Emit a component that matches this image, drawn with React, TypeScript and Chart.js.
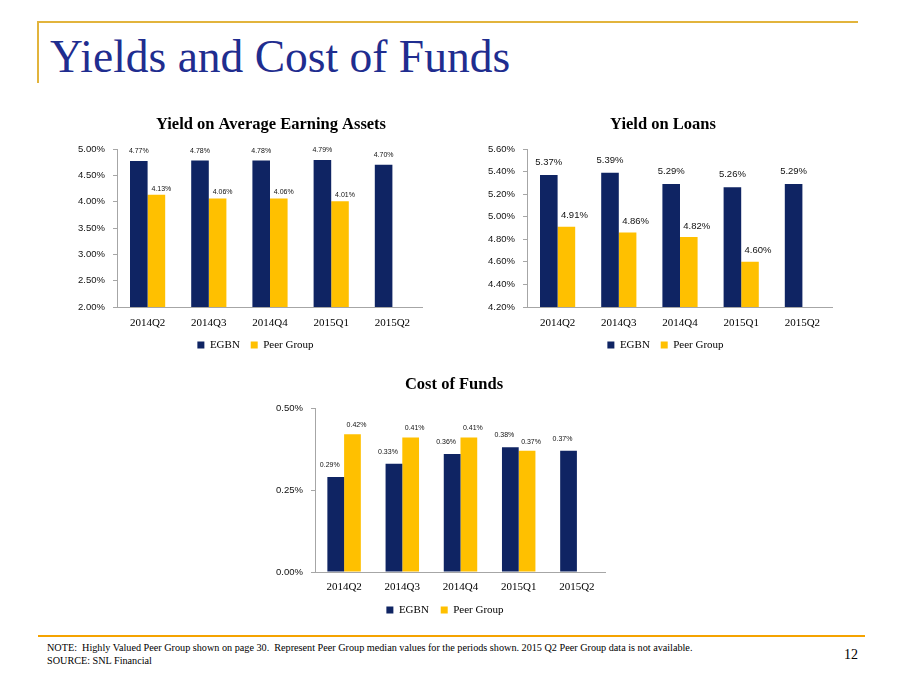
import { useEffect, useRef } from 'react';
import { Chart, registerables } from 'chart.js';

Chart.register(...registerables);
Chart.defaults.font.family = '"Liberation Serif", "Times New Roman", serif';
Chart.defaults.color = '#000';

// ---------- data ----------
const categories = ['2014Q2', '2014Q3', '2014Q4', '2015Q1', '2015Q2'];
const seriesNames = ['EGBN', 'Peer Group'];

const earningAssetsEGBN = [4.77, 4.78, 4.78, 4.79, 4.70];
const earningAssetsPeer = [4.13, 4.06, 4.06, 4.01, null];

const loansEGBN = [5.37, 5.39, 5.29, 5.26, 5.29];
const loansPeer = [4.91, 4.86, 4.82, 4.60, null];

const costEGBN = [0.29, 0.33, 0.36, 0.38, 0.37];
const costPeer = [0.42, 0.41, 0.41, 0.37, null];

const earningAssetsAxis = [2.0, 5.0, 0.5]; // min, max, step
const loansAxis = [4.2, 5.6, 0.2];
const costAxis = [0.0, 0.5, 0.25];

const slideTitle = 'Yields and Cost of Funds';
const chartTitles = ['Yield on Average Earning Assets', 'Yield on Loans', 'Cost of Funds'];
const noteText =
  'NOTE:  Highly Valued Peer Group shown on page 30.  Represent Peer Group median values for the periods shown. 2015 Q2 Peer Group data is not available.';
const sourceText = 'SOURCE: SNL Financial';
const pageNumber = '12';

// ---------- styles ----------
const NAVY = '#0f2463';
const GOLD = '#ffc000';
const AXIS = '#a6a6a6';

const barLabelPlugin = {
  id: 'barLabels',
  afterDatasetsDraw(chart: any, _args: any, opts: any) {
    const { ctx } = chart;
    ctx.save();
    ctx.font = `${opts.size}px "Liberation Sans", Arial, sans-serif`;
    ctx.fillStyle = opts.color || '#000';
    ctx.textAlign = 'center';
    ctx.textBaseline = 'middle';
    chart.data.datasets.forEach((ds: any, di: number) => {
      const meta = chart.getDatasetMeta(di);
      const off = opts.offsets[di];
      meta.data.forEach((el: any, i: number) => {
        const v = ds.data[i];
        if (v === null || v === undefined) return;
        ctx.fillText(Number(v).toFixed(2) + '%', el.x + off.dx, el.y + off.dy);
      });
    });
    ctx.restore();
  },
};

const boxShiftPlugin = {
  id: 'boxShift',
  afterLayout(chart: any, _args: any, opts: any) {
    const t = chart.titleBlock;
    if (t && opts.title) {
      t.left += opts.title;
      t.right += opts.title;
    }
    const l = chart.legend;
    if (l && opts.legend) {
      l.left += opts.legend;
      l.right += opts.legend;
    }
  },
};

type Spec = {
  title: string;
  egbn: (number | null)[];
  peer: (number | null)[];
  axis: number[];
  box: { left: number; top: number; width: number; height: number };
  yWidth: number;
  xHeight: number;
  titlePad: { top: number; bottom: number };
  xPad: number;
  legendPad: number;
  bottomPad: number;
  titleShift: number;
  legendShift: number;
  labelSize: number;
  labelOffsets: { dx: number; dy: number }[];
};

const specs: Spec[] = [
  {
    title: chartTitles[0],
    egbn: earningAssetsEGBN,
    peer: earningAssetsPeer,
    axis: earningAssetsAxis,
    box: { left: 60, top: 110, width: 363, height: 251 },
    yWidth: 57,
    xHeight: 21.6,
    titlePad: { top: 5.1, bottom: 14.1 },
    xPad: 9.4,
    legendPad: 10.9,
    bottomPad: 0.5,
    titleShift: 29.5,
    legendShift: 14,
    labelSize: 7,
    labelOffsets: [
      { dx: 0, dy: -10 },
      { dx: 5, dy: -6 },
    ],
  },
  {
    title: chartTitles[1],
    egbn: loansEGBN,
    peer: loansPeer,
    axis: loansAxis,
    box: { left: 470, top: 110, width: 363, height: 251 },
    yWidth: 57,
    xHeight: 21.6,
    titlePad: { top: 5.1, bottom: 14.1 },
    xPad: 9.4,
    legendPad: 10.9,
    bottomPad: 0.5,
    titleShift: 11.5,
    legendShift: 14,
    labelSize: 9.5,
    labelOffsets: [
      { dx: 0, dy: -12.5 },
      { dx: 8, dy: -11 },
    ],
  },
  {
    title: chartTitles[2],
    egbn: costEGBN,
    peer: costPeer,
    axis: costAxis,
    box: { left: 260, top: 370, width: 346, height: 256 },
    yWidth: 55,
    xHeight: 20.6,
    titlePad: { top: 4.6, bottom: 13.6 },
    xPad: 8.4,
    legendPad: 11.9,
    bottomPad: 0.5,
    titleShift: 21,
    legendShift: 12,
    labelSize: 7,
    labelOffsets: [
      { dx: -6, dy: -12 },
      { dx: 4, dy: -9 },
    ],
  },
];

function BarChart({ spec }: { spec: Spec }) {
  const ref = useRef<HTMLCanvasElement>(null);
  useEffect(() => {
    if (!ref.current) return;
    const [min, max, step] = spec.axis;
    const chart = new Chart(ref.current, {
      type: 'bar',
      data: {
        labels: categories,
        datasets: [
          {
            label: seriesNames[0],
            data: spec.egbn,
            backgroundColor: NAVY,
            borderWidth: 0,
            categoryPercentage: 0.575,
            barPercentage: 1,
          },
          {
            label: seriesNames[1],
            data: spec.peer,
            backgroundColor: GOLD,
            borderWidth: 0,
            categoryPercentage: 0.575,
            barPercentage: 1,
          },
        ],
      },
      options: {
        responsive: false,
        animation: false,
        layout: { padding: { left: 0, right: 0, top: 0, bottom: spec.bottomPad } },
        scales: {
          x: {
            grid: { display: false, drawTicks: false, tickLength: 0 },
            border: { display: true, color: AXIS, width: 1 },
            ticks: {
              padding: spec.xPad,
              maxRotation: 0,
              font: { size: 11, family: '"Liberation Serif", "Times New Roman", serif' },
              color: '#000',
            },
            afterFit: (s: any) => {
              s.height = spec.xHeight;
            },
          },
          y: {
            min,
            max,
            grid: {
              display: true,
              drawOnChartArea: false,
              drawTicks: true,
              tickLength: 4,
              color: AXIS,
            },
            border: { display: true, color: AXIS, width: 1 },
            ticks: {
              stepSize: step,
              padding: 8,
              font: { size: 9.5, family: '"Liberation Sans", Arial, sans-serif' },
              color: '#111',
              callback: (v: any) => Number(v).toFixed(2) + '%',
            },
            afterFit: (s: any) => {
              s.width = spec.yWidth;
            },
          },
        },
        plugins: {
          title: {
            display: true,
            text: spec.title,
            color: '#000',
            font: { size: 16.5, weight: 'bold', family: '"Liberation Serif", "Times New Roman", serif' },
            padding: spec.titlePad,
          },
          legend: {
            display: true,
            position: 'bottom',
            labels: {
              boxWidth: 7,
              boxHeight: 7,
              padding: spec.legendPad,
              color: '#000',
              font: { size: 11, family: '"Liberation Serif", "Times New Roman", serif' },
            },
          },
          tooltip: { enabled: false },
          barLabels: { size: spec.labelSize, color: '#111', offsets: spec.labelOffsets },
          boxShift: { title: spec.titleShift, legend: spec.legendShift },
        } as any,
      },
      plugins: [barLabelPlugin, boxShiftPlugin],
    });
    return () => chart.destroy();
  }, [spec]);
  return (
    <canvas
      ref={ref}
      width={spec.box.width}
      height={spec.box.height}
      style={{
        position: 'absolute',
        left: spec.box.left,
        top: spec.box.top,
        width: spec.box.width,
        height: spec.box.height,
      }}
    />
  );
}

export default function App() {
  return (
    <div
      style={{
        position: 'absolute',
        left: 0,
        top: 0,
        width: 911,
        height: 683,
        background: '#fff',
        overflow: 'hidden',
        fontFamily: '"Liberation Serif", "Times New Roman", serif',
      }}
    >
      {/* top rule and left bracket */}
      <div style={{ position: 'absolute', left: 37, top: 21, width: 821, height: 2, background: '#e2b43c' }} />
      <div style={{ position: 'absolute', left: 37, top: 21, width: 2, height: 62, background: '#e2b43c' }} />
      <div
        style={{
          position: 'absolute',
          left: 50,
          top: 34,
          fontSize: 45.5,
          lineHeight: '45.5px',
          color: '#1f2d8f',
          whiteSpace: 'nowrap',
        }}
      >
        {slideTitle}
      </div>

      {specs.map((s, i) => (
        <BarChart key={i} spec={s} />
      ))}

      {/* bottom rule */}
      <div style={{ position: 'absolute', left: 38, top: 635, width: 827, height: 2, background: '#f5a300' }} />
      <div
        style={{
          position: 'absolute',
          left: 47,
          top: 643,
          fontSize: 10.2,
          lineHeight: '10.2px',
          color: '#000',
          whiteSpace: 'pre',
        }}
      >
        {noteText}
      </div>
      <div
        style={{
          position: 'absolute',
          left: 47,
          top: 656,
          fontSize: 10.2,
          lineHeight: '10.2px',
          color: '#000',
          whiteSpace: 'pre',
        }}
      >
        {sourceText}
      </div>
      <div
        style={{
          position: 'absolute',
          left: 844,
          top: 648,
          fontSize: 14,
          lineHeight: '14px',
          color: '#000',
        }}
      >
        {pageNumber}
      </div>
    </div>
  );
}
